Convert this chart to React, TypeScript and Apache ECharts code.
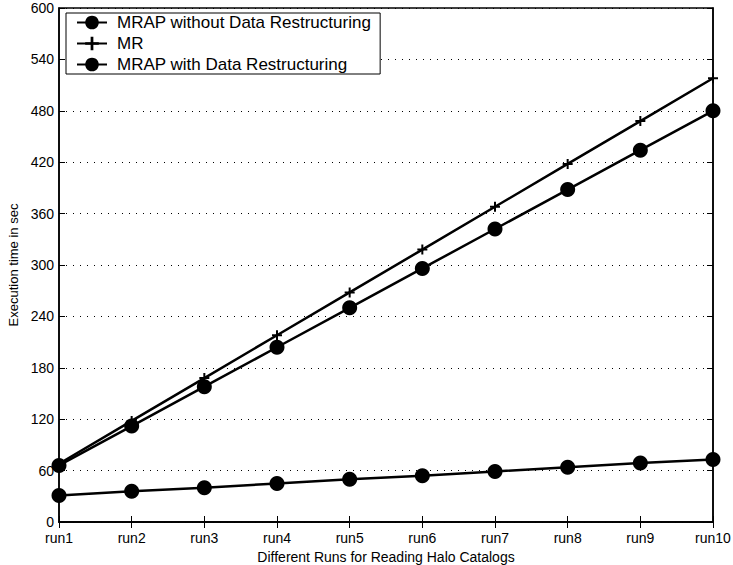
import React, { useEffect, useRef } from "react";
import * as echarts from "echarts";

const categories = ["run1", "run2", "run3", "run4", "run5", "run6", "run7", "run8", "run9", "run10"];
const mrapWithout = [66, 112, 158, 204, 250, 296, 342, 388, 434, 480];
const mr = [68, 118, 168, 218, 268, 318, 368, 418, 468, 518];
const mrapWith = [31, 36, 40, 45, 50, 54, 59, 64, 69, 73];
const seriesNames = ["MRAP without Data Restructuring", "MR", "MRAP with Data Restructuring"];

const FONT = "Liberation Sans, Arial, Helvetica, sans-serif";
const PLUS = "path://M4,0 H6 V4 H10 V6 H6 V10 H4 V6 H0 V4 H4 Z";

export default function App() {
  const ref = useRef<HTMLDivElement>(null);
  useEffect(() => {
    if (!ref.current) return;
    const chart = echarts.init(ref.current, null, { renderer: "svg" });
    const lineStyle = { color: "#000", width: 2.5 };
    chart.setOption({
      animation: false,
      backgroundColor: "#fff",
      textStyle: { fontFamily: FONT },
      grid: {
        left: 59, right: 20, top: 8, bottom: 43,
        outerBoundsMode: "none",
        containLabel: false,
        show: true, borderColor: "#000", borderWidth: 1.5, backgroundColor: "transparent",
      },
      legend: {
        orient: "vertical",
        left: 66, top: 13,
        data: seriesNames,
        backgroundColor: "#fff",
        borderColor: "#000", borderWidth: 1,
        padding: [1, 9, 1, 10],
        itemWidth: 30, itemHeight: 17, itemGap: 4,
        textStyle: { fontSize: 17, color: "#000", fontFamily: FONT, padding: [0, 0, 0, 5] },
        selectedMode: false,
      },
      xAxis: [
        {
          type: "category", data: categories, boundaryGap: false,
          axisLine: { lineStyle: { color: "#000", width: 1.5 } },
          axisTick: { inside: true, length: 6, lineStyle: { color: "#000" } },
          axisLabel: { color: "#000", fontSize: 14, margin: 9, fontFamily: FONT },
          name: "Different Runs for Reading Halo Catalogs",
          nameLocation: "middle", nameGap: 24,
          nameTextStyle: { color: "#000", fontSize: 14, fontFamily: FONT },
          splitLine: { show: false },
        },
        {
          type: "category", data: categories, boundaryGap: false, position: "top",
          axisLine: { lineStyle: { color: "#000", width: 1.5 } },
          axisTick: { inside: true, length: 6, lineStyle: { color: "#000" } },
          axisLabel: { show: false },
          splitLine: { show: false },
        },
      ],
      yAxis: [
        {
          type: "value", min: 0, max: 600, interval: 60,
          axisLine: { show: true, lineStyle: { color: "#000", width: 1.5 } },
          axisTick: { show: true, inside: true, length: 6, lineStyle: { color: "#000" } },
          axisLabel: { color: "#000", fontSize: 14, margin: 5, fontFamily: FONT },
          splitLine: { show: true, lineStyle: { color: "#000", type: [1, 6], width: 1 } },
          name: "Execution time in sec",
          nameLocation: "middle", nameGap: 36,
          nameTextStyle: { color: "#000", fontSize: 13, fontFamily: FONT },
        },
        {
          type: "value", min: 0, max: 600, interval: 60, position: "right",
          axisLine: { show: true, lineStyle: { color: "#000", width: 1.5 } },
          axisTick: { show: true, inside: true, length: 6, lineStyle: { color: "#000" } },
          axisLabel: { show: false },
          splitLine: { show: false },
        },
      ],
      series: [
        {
          name: seriesNames[0], type: "line", data: mrapWithout,
          symbol: "circle", symbolSize: 15, lineStyle, itemStyle: { color: "#000" }, z: 3,
        },
        {
          name: seriesNames[1], type: "line", data: mr,
          symbol: PLUS, symbolSize: 10, lineStyle, itemStyle: { color: "#000" }, z: 4,
        },
        {
          name: seriesNames[2], type: "line", data: mrapWith,
          symbol: "circle", symbolSize: 15, lineStyle, itemStyle: { color: "#000" }, z: 3,
        },
      ],
    });
    return () => chart.dispose();
  }, []);
  return <div ref={ref} style={{ width: 733, height: 565, position: "absolute", left: 0, top: 0 }} />;
}
